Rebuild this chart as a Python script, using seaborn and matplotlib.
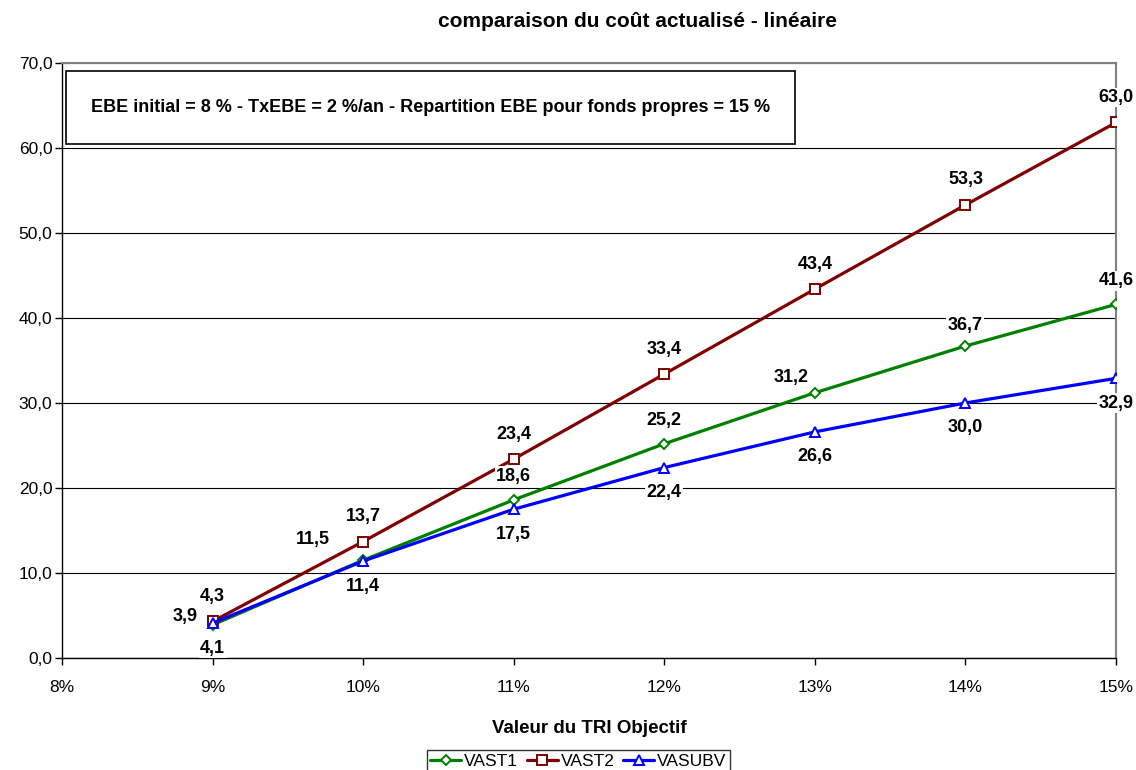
import matplotlib
matplotlib.use("Agg")
import matplotlib.pyplot as plt
import seaborn as sns
import pandas as pd
from matplotlib.ticker import FuncFormatter, MultipleLocator
from matplotlib.patches import Rectangle

tri = [9, 10, 11, 12, 13, 14, 15]
vast1 = [3.9, 11.5, 18.6, 25.2, 31.2, 36.7, 41.6]
vast2 = [4.3, 13.7, 23.4, 33.4, 43.4, 53.3, 63.0]
vasubv = [4.1, 11.4, 17.5, 22.4, 26.6, 30.0, 32.9]

# label offsets in points (Excel moved some labels around)
off1 = [(-20, 6), (-36, 15), (0, 17), (0, 17), (-17, 11), (0, 15), (0, 17)]
off2 = [(0, 18)] * 7
off3 = [(0, -18)] * 7

sns.set_style("white")
plt.rcParams['font.family'] = ['Liberation Sans', 'DejaVu Sans']
plt.rcParams.update({"text.color": "black", "axes.labelcolor": "black",
                     "xtick.color": "black", "ytick.color": "black"})

fig = plt.figure(figsize=(11.36, 7.7), dpi=100)
ax = fig.add_axes([0.0546, 0.1455, 0.9278, 0.7727])

series = [
    ("VAST1", vast1, "#008000", "D", 5.5, off1),
    ("VAST2", vast2, "#800000", "s", 7.5, off2),
    ("VASUBV", vasubv, "#0000FF", "^", 7.5, off3),
]

for name, vals, col, mk, ms, offs in series:
    df = pd.DataFrame({"tri": tri, "val": vals})
    sns.lineplot(data=df, x="tri", y="val", ax=ax, color=col, linewidth=2.3,
                 marker=mk, markersize=ms, markerfacecolor="white",
                 markeredgecolor=col, markeredgewidth=1.4, label=name, zorder=3)

for name, vals, col, mk, ms, offs in series:
    for xv, yv, (dx, dy) in zip(tri, vals, offs):
        ax.annotate(f"{yv:.1f}".replace(".", ","), (xv, yv), xytext=(dx, dy),
                    textcoords="offset points", ha="center", va="center",
                    fontsize=13, fontweight="bold", zorder=5,
                    bbox=dict(facecolor="white", edgecolor="none", pad=1.0))

ax.set_xlim(8, 15)
ax.set_ylim(0, 70)
ax.xaxis.set_major_locator(MultipleLocator(1))
ax.yaxis.set_major_locator(MultipleLocator(10))
ax.xaxis.set_major_formatter(FuncFormatter(lambda v, p: f"{v:.0f}%"))
ax.yaxis.set_major_formatter(FuncFormatter(lambda v, p: f"{v:.1f}".replace(".", ",")))
ax.tick_params(axis="both", direction="out", length=5, width=1, color="black",
               labelsize=12.5, left=True, bottom=True)
ax.tick_params(axis="x", pad=11)
ax.tick_params(axis="y", pad=2)
ax.grid(axis="y", color="black", linewidth=0.8)
ax.grid(axis="x", visible=False)
ax.set_axisbelow(True)
for s in ["left", "bottom"]:
    ax.spines[s].set_color("black")
    ax.spines[s].set_linewidth(1)
for s in ["top", "right"]:
    ax.spines[s].set_color("#808080")
    ax.spines[s].set_linewidth(1.5)

ax.set_xlabel("Valeur du TRI Objectif", fontsize=13.5, fontweight="bold", labelpad=18)
ax.set_ylabel("")
fig.suptitle("comparaison du coût actualisé - linéaire", x=0.561, y=0.985,
             fontsize=15, fontweight="bold")

# info box
ax.add_patch(Rectangle((0.004, 0.863), 0.6914, 0.1227, transform=ax.transAxes,
                       facecolor="white", edgecolor="black", linewidth=1.2, zorder=4))
ax.text(0.3497, 0.9245, "EBE initial = 8 % - TxEBE = 2 %/an - Repartition EBE pour fonds propres = 15 %",
        transform=ax.transAxes, ha="center", va="center", fontsize=13,
        fontweight="bold", zorder=5)

handles, labels = ax.get_legend_handles_labels()
ax.get_legend().remove()
leg = fig.legend(handles, labels, loc="upper center", bbox_to_anchor=(0.509, 0.026),
                 ncol=3, fontsize=12.5, frameon=True, fancybox=False, edgecolor="black",
                 handlelength=1.8, handletextpad=0.15, columnspacing=0.5,
                 borderpad=0.2, borderaxespad=0)
leg.get_frame().set_linewidth(1)

fig.savefig("out.png", dpi=100)
